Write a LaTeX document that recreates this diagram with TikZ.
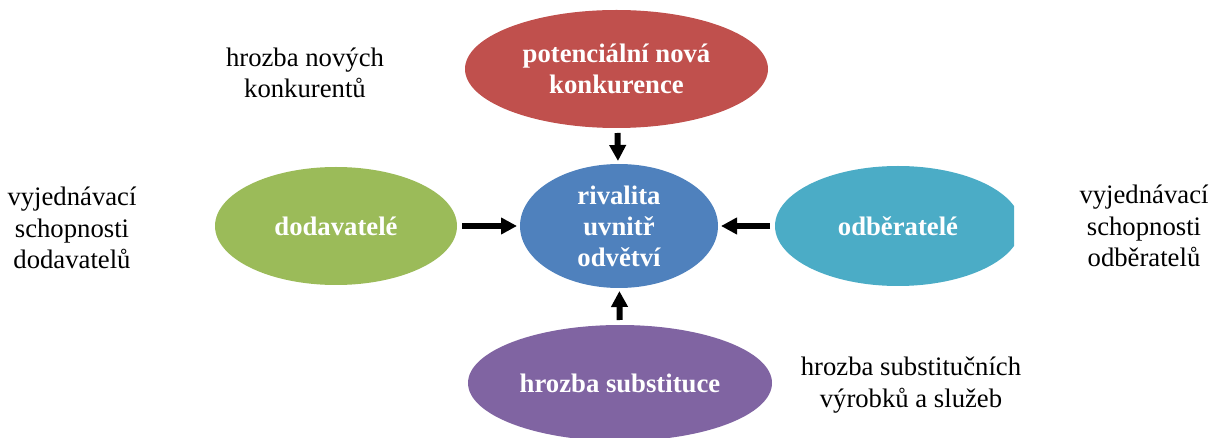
\documentclass[tikz,border=0pt]{standalone}
\usepackage{fontspec}
\setmainfont{Liberation Serif}
\usetikzlibrary{shapes.geometric,arrows.meta}

\definecolor{cRed}{HTML}{C0504D}
\definecolor{cGreen}{HTML}{9BBB59}
\definecolor{cTeal}{HTML}{4BACC6}
\definecolor{cPurple}{HTML}{8064A2}
\definecolor{cBlue}{HTML}{4F81BD}

\tikzset{
  force/.style={ellipse, draw=none, inner sep=0pt, outer sep=0pt},
  inlabel/.style={text=white, align=center,
    font=\fontsize{26.7}{31}\selectfont\bfseries},
  note/.style={align=center, inner sep=0pt,
    font=\fontsize{26.7}{31.5}\selectfont},
  push/.style={line width=6pt, -{Triangle[length=16pt,width=16pt]},
    shorten <=5pt, shorten >=3pt}
}

\begin{document}
\begin{tikzpicture}[x=1pt, y=-1pt]
  \useasboundingbox (0,0) rectangle (1219,438);

  % five forces
  \node[force, fill=cRed, minimum width=303pt, minimum height=118pt,
        label={[inlabel]center:{potenciální nová\\konkurence}}]
        (entrants) at (616.5,69) {};
  \node[force, fill=cBlue, minimum width=198pt, minimum height=124pt,
        label={[inlabel]center:{rivalita\\uvnitř\\odvětví}}]
        (rivalry) at (619,226) {};
  \node[force, fill=cGreen, minimum width=242pt, minimum height=118pt,
        label={[inlabel]center:{dodavatelé}}]
        (suppliers) at (336,226) {};
  \begin{scope}
    \clip (0,0) rectangle (1014,438);
    \node[force, fill=cTeal, minimum width=246pt, minimum height=120pt,
          label={[inlabel]center:{odběratelé}}]
          (buyers) at (898,226) {};
  \end{scope}
  \node[force, fill=cPurple, minimum width=304pt, minimum height=116pt,
        label={[inlabel]center:{hrozba substituce}}]
        (substitutes) at (620,383) {};

  % pressures on the industry
  \draw[push] (entrants) -- (rivalry);
  \draw[push] (suppliers) -- (rivalry);
  \draw[push] (buyers) -- (rivalry);
  \draw[push] (substitutes) -- (rivalry);

  % descriptions
  \node[note] (newcomers) at (305,73) {hrozba nových\\konkurentů};
  \node[note] (supplierpower) at (72,228) {vyjednávací\\schopnosti\\dodavatelů};
  \node[note] (buyerpower) at (1144,226) {vyjednávací\\schopnosti\\odběratelů};
  \node[note] (substitutethreat) at (911,385) {hrozba substitučních\\výrobků a služeb};
\end{tikzpicture}
\end{document}
